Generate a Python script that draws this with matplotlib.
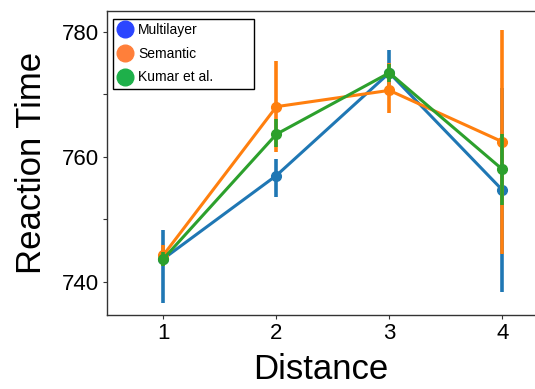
"""Reaction time by distance for three models, point plot with error bars."""

import numpy as np
import matplotlib
matplotlib.use("Agg")
import matplotlib.pyplot as plt
from matplotlib.lines import Line2D

plt.rcParams["font.family"] = ["Liberation Sans", "DejaVu Sans"]

distance = [1, 2, 3, 4]
models = ["Multilayer", "Semantic", "Kumar et al."]

rt_multilayer = [743.7, 757.0, 773.4, 754.7]
lo_multilayer = [736.6, 753.6, 769.8, 738.4]
hi_multilayer = [748.3, 759.7, 777.0, 771.0]

rt_semantic = [744.3, 768.0, 770.6, 762.4]
lo_semantic = [742.5, 760.7, 767.0, 744.5]
hi_semantic = [745.9, 775.3, 774.9, 780.2]

rt_kumar = [743.7, 763.6, 773.4, 758.0]
lo_kumar = [742.6, 761.6, 772.0, 752.3]
hi_kumar = [744.8, 766.1, 774.8, 763.7]

line_colors = ["#1f77b4", "#ff7f0e", "#2ca02c"]
legend_colors = ["#2b45ff", "#ff7f3a", "#1eb04a"]

fig = plt.figure(figsize=(5.35, 3.89), dpi=100)
ax = fig.add_axes([0.2, 0.19, 0.8, 0.782])

series = [
    (rt_multilayer, lo_multilayer, hi_multilayer),
    (rt_semantic, lo_semantic, hi_semantic),
    (rt_kumar, lo_kumar, hi_kumar),
]
for i, (rt, lo, hi) in enumerate(series):
    rt = np.array(rt)
    yerr = [rt - np.array(lo), np.array(hi) - rt]
    ax.errorbar(distance, rt, yerr=yerr, color=line_colors[i], lw=2.2,
                elinewidth=2.6, marker="o", ms=7, capsize=0, zorder=2 + i)

ax.set_xlim(0.5, 4.29)
ax.set_ylim(734.7, 783.3)
ax.set_xticks(distance)
ax.set_yticks([740, 750, 760, 770, 780])
ax.set_yticklabels(["740", "", "760", "", "780"])
ax.tick_params(labelsize=16, length=3, width=0.8, color="#333333", pad=3)
ax.spines["right"].set_visible(False)
for s in ["left", "top", "bottom"]:
    ax.spines[s].set_color("#333333")
    ax.spines[s].set_linewidth(1.0)

ax.set_xlabel("Distance", fontsize=25, labelpad=6)
ax.set_ylabel("Reaction Time", fontsize=25, labelpad=10)

handles = [Line2D([], [], ls="none", marker="o", ms=12, color=c) for c in legend_colors]
leg = ax.legend(handles, models, loc="upper left", fontsize=10, fancybox=False,
                framealpha=1, edgecolor="black", handletextpad=0.4,
                borderpad=0.3, handlelength=1.1, labelspacing=0.7,
                mode="expand", borderaxespad=0,
                bbox_to_anchor=(0.014, 0.747, 0.33, 0.227))
leg.get_frame().set_linewidth(1.0)

fig.savefig("out.png", dpi=100)
plt.close(fig)
